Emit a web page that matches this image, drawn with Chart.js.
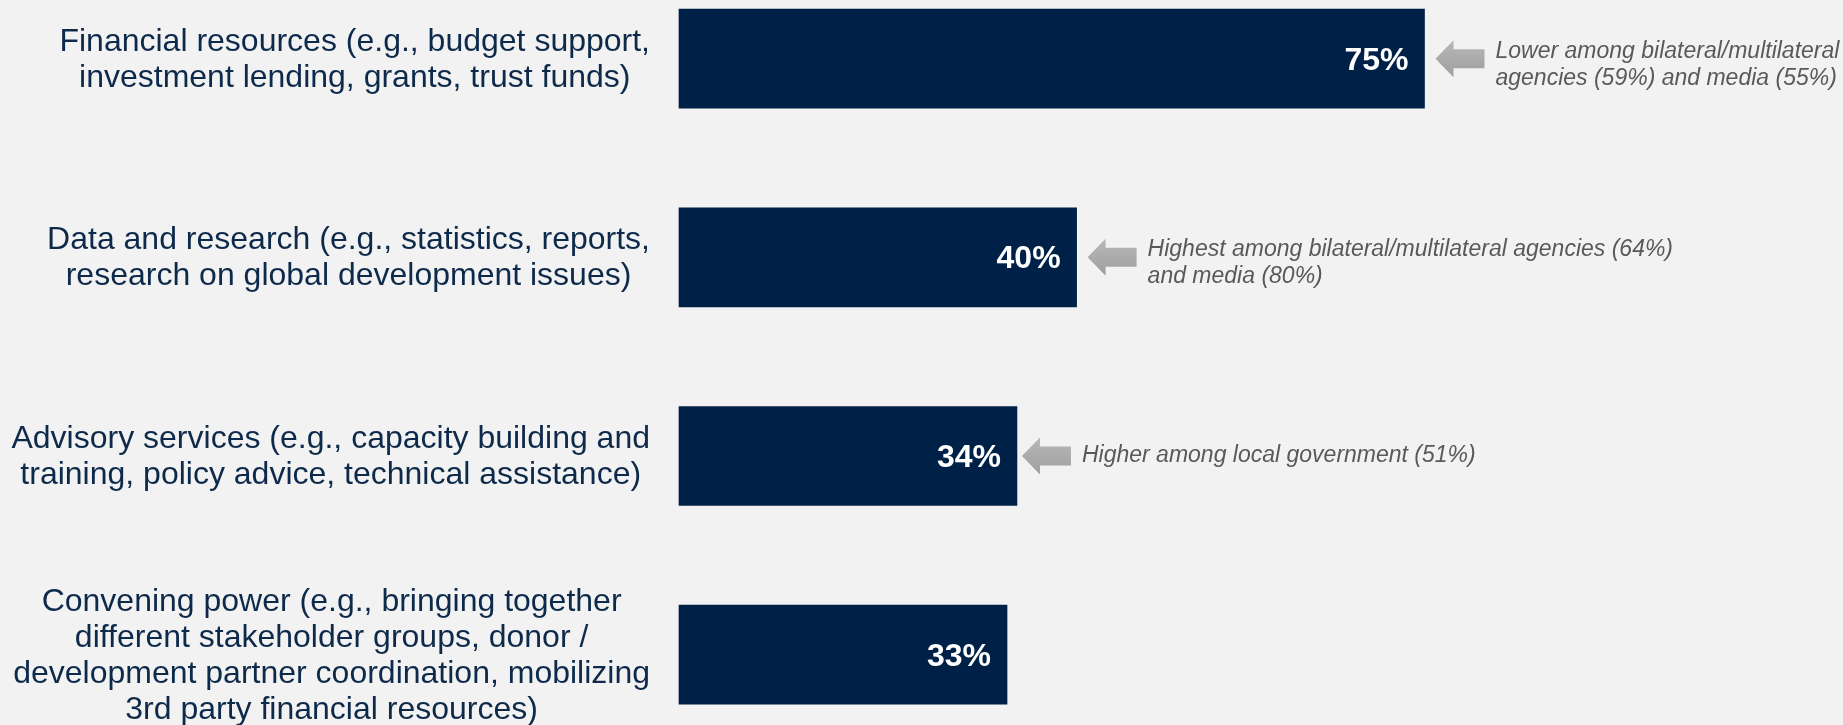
<!DOCTYPE html>
<html>
<head>
<meta charset="utf-8">
<script src="https://cdn.jsdelivr.net/npm/chart.js@4"></script>
<style>
  html, body { margin: 0; padding: 0; background: #F2F2F2; }
  #wrap { width: 1843px; height: 725px; }
</style>
</head>
<body>
<div id="wrap"><canvas id="c" width="1843" height="725"></canvas></div>
<script>
// Categories (each entry is the list of lines shown for that row)
const categories = [
  ["Financial resources (e.g., budget support,", "investment lending, grants, trust funds)"],
  ["Data and research (e.g., statistics, reports,", "research on global development issues)"],
  ["Advisory services (e.g., capacity building and", "training, policy advice, technical assistance)"],
  ["Convening power (e.g., bringing together", "different stakeholder groups, donor /", "development partner coordination, mobilizing", "3rd party financial resources)"]
];
// Share of respondents, percent
const values = [75, 40, 34, 33];
// Side notes pointing at each bar (empty = no note)
const notes = [
  ["Lower among bilateral/multilateral", "agencies (59%) and media (55%)"],
  ["Highest among bilateral/multilateral agencies (64%)", "and media (80%)"],
  ["Higher among local government (51%)"],
  []
];

const NAVY = '#002147';
const LABEL_COLOR = '#0E2A4B';
const NOTE_COLOR = '#595959';
const FONT = '"Liberation Sans", Arial, sans-serif';
// horizontal nudge (px) of each arrow + note group
const NOTE_NUDGE = [0, 0, -6, 0];

// Category labels: right-aligned block, each line centred within it
const categoryLabels = {
  id: 'categoryLabels',
  afterDraw(chart) {
    const ctx = chart.ctx;
    const y = chart.scales.y;
    const rightEdge = 650, lh = 36;
    ctx.save();
    ctx.font = '32px ' + FONT;
    ctx.fillStyle = LABEL_COLOR;
    ctx.textAlign = 'center';
    ctx.textBaseline = 'middle';
    categories.forEach((lines, i) => {
      const cy = y.getPixelForValue(i);
      const w = Math.max(...lines.map(l => ctx.measureText(l).width));
      const cx = rightEdge - w / 2;
      lines.forEach((line, j) => {
        ctx.fillText(line, cx, cy + (j - (lines.length - 1) / 2) * lh + 1);
      });
    });
    ctx.restore();
  }
};

// Value labels inside bar ends, plus arrows and notes beside them
const barExtras = {
  id: 'barExtras',
  afterDatasetsDraw(chart) {
    const ctx = chart.ctx;
    const meta = chart.getDatasetMeta(0);
    ctx.save();
    meta.data.forEach((bar, i) => {
      const endX = bar.x, cy = bar.y;
      // value label
      ctx.font = 'bold 32px ' + FONT;
      ctx.fillStyle = '#FFFFFF';
      ctx.textAlign = 'right';
      ctx.textBaseline = 'middle';
      ctx.fillText(values[i] + '%', endX - 16, cy + 2);

      const lines = notes[i];
      if (!lines.length) return;
      const base = endX + NOTE_NUDGE[i];
      // arrow pointing left at the bar
      const tip = base + 11, headLen = 18, total = 49, headH = 18.5, shaftH = 9.5;
      const ay = cy;
      const grad = ctx.createLinearGradient(0, ay - headH, 0, ay + headH);
      grad.addColorStop(0, '#B8B8B8');
      grad.addColorStop(1, '#9E9E9E');
      ctx.fillStyle = grad;
      ctx.beginPath();
      ctx.moveTo(tip, ay);
      ctx.lineTo(tip + headLen, ay - headH);
      ctx.lineTo(tip + headLen, ay - shaftH);
      ctx.lineTo(tip + total, ay - shaftH);
      ctx.lineTo(tip + total, ay + shaftH);
      ctx.lineTo(tip + headLen, ay + shaftH);
      ctx.lineTo(tip + headLen, ay + headH);
      ctx.closePath();
      ctx.fill();
      // note text
      ctx.font = 'italic 23px ' + FONT;
      ctx.fillStyle = NOTE_COLOR;
      ctx.textAlign = 'left';
      const lh = 27;
      const shift = lines.length > 1 ? 6 : 0;
      lines.forEach((line, j) => {
        ctx.fillText(line, base + 71, cy + shift + (j - (lines.length - 1) / 2) * lh);
      });
    });
    ctx.restore();
  }
};

new Chart(document.getElementById('c'), {
  type: 'bar',
  data: {
    labels: categories.map(l => l.join(' ')),
    datasets: [{
      data: values,
      backgroundColor: NAVY,
      borderWidth: 0,
      barThickness: 99,
      clip: false
    }]
  },
  options: {
    indexAxis: 'y',
    responsive: false,
    animation: false,
    events: [],
    layout: { padding: { left: 679, right: 170, top: 58.7, bottom: 70.3 } },
    plugins: { legend: { display: false }, tooltip: { enabled: false } },
    scales: {
      x: { type: 'linear', min: 0, max: 100, display: false },
      y: { type: 'category', offset: false, display: false }
    }
  },
  plugins: [categoryLabels, barExtras]
});
</script>
</body>
</html>
